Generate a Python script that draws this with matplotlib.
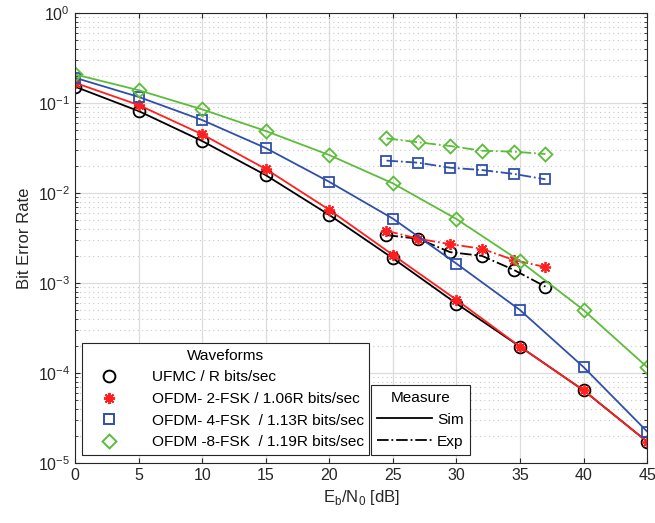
import numpy as np
import matplotlib.pyplot as plt
from matplotlib.lines import Line2D

plt.rcParams['font.family'] = ['Liberation Sans', 'DejaVu Sans']

# simulated curves (Eb/N0 in dB)
ebn0_sim = [0, 5, 10, 15, 20, 25, 30, 35, 40, 45]
ber_ufmc_sim = [0.152, 0.0815, 0.0378, 0.0158, 0.0057, 0.00188, 0.00059, 0.000196, 6.4e-5, 1.72e-5]
ber_2fsk_sim = [0.168, 0.095, 0.0449, 0.0185, 0.0065, 0.00205, 0.00065, 0.000196, 6.4e-5, 1.72e-5]
ber_4fsk_sim = [0.191, 0.117, 0.0647, 0.0316, 0.0133, 0.00519, 0.00164, 0.00050, 0.000116, 2.23e-5]
ber_8fsk_sim = [0.208, 0.139, 0.085, 0.0489, 0.0264, 0.0128, 0.00514, 0.00175, 0.00050, 0.000116]

# experimental curves
ebn0_exp = [24.5, 27, 29.5, 32, 34.5, 37]
ber_ufmc_exp = [0.0034, 0.0031, 0.0022, 0.0020, 0.0014, 0.00091]
ber_2fsk_exp = [0.0038, 0.0031, 0.0027, 0.0024, 0.0018, 0.0015]
ber_4fsk_exp = [0.0229, 0.0217, 0.0191, 0.0180, 0.0163, 0.0142]
ber_8fsk_exp = [0.0405, 0.0366, 0.0333, 0.0295, 0.0288, 0.0271]

labels = ['UFMC / R bits/sec',
          'OFDM- 2-FSK / 1.06R bits/sec',
          'OFDM- 4-FSK  / 1.13R bits/sec',
          'OFDM -8-FSK  / 1.19R bits/sec']

colors = ['black', '#FF1F1F', '#2F4FAA', '#5BBD3A']
markers = ['o', (8, 2, 0), 's', (4, 0, 0)]
msizes = [8.5, 8, 7, 10]
sims = [ber_ufmc_sim, ber_2fsk_sim, ber_4fsk_sim, ber_8fsk_sim]
exps = [ber_ufmc_exp, ber_2fsk_exp, ber_4fsk_exp, ber_8fsk_exp]

fig = plt.figure(figsize=(6.55, 5.23), dpi=100)
ax = fig.add_axes([0.1145, 0.115, 0.8735, 0.86])

for i in range(4):
    kw = dict(color=colors[i], marker=markers[i], markersize=msizes[i],
              markerfacecolor='none', markeredgewidth=1.3, lw=1.3)
    ax.plot(ebn0_sim, sims[i], '-', **kw)
    ax.plot(ebn0_exp, exps[i], '-.', **kw)

ax.set_yscale('log')
ax.set_xlim(0, 45)
ax.set_ylim(1e-5, 1)
ax.set_xticks(np.arange(0, 46, 5))
ax.grid(True, which='major', color='#DCDCDC', lw=0.9)
ax.yaxis.grid(True, which='minor', color='#C8C8C8', lw=0.8, ls=(0, (1, 3)))
ax.tick_params(which='both', direction='in', top=True, right=True, labelsize=11.5, colors='#262626')
for s in ax.spines.values():
    s.set_color('#262626')
ax.set_xlabel(r'E$_\mathregular{b}$/N$_\mathregular{0}$ [dB]', fontsize=12, color='#262626')
ax.set_ylabel('Bit Error Rate', fontsize=12, color='#262626')

# waveforms legend (markers only)
wf_handles = [Line2D([], [], ls='none', color=colors[i], marker=markers[i],
                     markersize=msizes[i], markerfacecolor='none', markeredgewidth=1.4)
              for i in range(4)]
leg1 = ax.legend(wf_handles, labels, title='Waveforms', loc='lower left',
                 bbox_to_anchor=(0.012, 0.018), fontsize=11.1, title_fontsize=11.1,
                 fancybox=False, framealpha=1, edgecolor='#262626',
                 handlelength=2.8, handletextpad=1.4, labelspacing=0.5,
                 borderpad=0.35, borderaxespad=0)
leg1.get_frame().set_linewidth(0.8)
ax.add_artist(leg1)

ms_handles = [Line2D([], [], color='black', ls='-', lw=1.3),
              Line2D([], [], color='black', ls='-.', lw=1.3)]
leg2 = ax.legend(ms_handles, ['Sim', 'Exp'], title='Measure', loc='lower left',
                 bbox_to_anchor=(0.517, 0.018), fontsize=11.1, title_fontsize=11.1,
                 fancybox=False, framealpha=1, edgecolor='#262626',
                 handlelength=3.6, handletextpad=0.3, labelspacing=0.5,
                 borderpad=0.4, borderaxespad=0)
leg2.get_frame().set_linewidth(0.8)

fig.savefig('out.png', dpi=100)
